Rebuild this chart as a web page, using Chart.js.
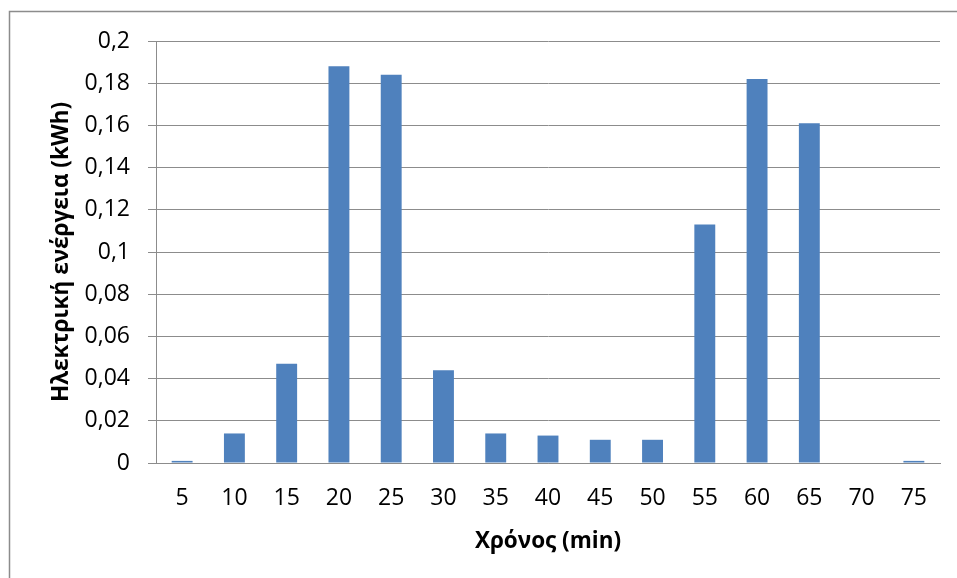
<!DOCTYPE html>
<html>
<head>
<meta charset="utf-8">
<script src="https://cdn.jsdelivr.net/npm/chart.js"></script>
<style>
  html, body { margin: 0; padding: 0; background: #fff; }
  #wrap { position: relative; width: 957px; height: 578px; }
</style>
</head>
<body>
<div id="wrap"><canvas id="chart" width="957" height="578"></canvas></div>
<script>
// minutes on the x axis
const minutes = ['5', '10', '15', '20', '25', '30', '35', '40', '45', '50', '55', '60', '65', '70', '75'];
// energy per interval (kWh)
const energy = [0.001, 0.014, 0.047, 0.188, 0.184, 0.044, 0.014, 0.013, 0.011, 0.011, 0.113, 0.182, 0.161, 0, 0.001];
// y tick labels, greek decimal comma
const yTickLabels = ['0', '0,02', '0,04', '0,06', '0,08', '0,1', '0,12', '0,14', '0,16', '0,18', '0,2'];

const FONT = "'Open Sans', 'Noto Sans', sans-serif";

// outer frame of the Excel chart (top and left edges only show)
const framePlugin = {
  id: 'frame',
  beforeDraw(chart) {
    const ctx = chart.ctx;
    ctx.save();
    ctx.strokeStyle = '#8c8c8c';
    ctx.lineWidth = 1.5;
    ctx.beginPath();
    ctx.moveTo(9.5, 600);
    ctx.lineTo(9.5, 11.5);
    ctx.lineTo(960, 11.5);
    ctx.stroke();
    ctx.restore();
  }
};

new Chart(document.getElementById('chart'), {
  type: 'bar',
  data: {
    labels: minutes,
    datasets: [{
      label: 'Ηλεκτρική ενέργεια',
      data: energy,
      backgroundColor: '#4F81BD',
      borderWidth: 0,
      barPercentage: 0.4,
      categoryPercentage: 1.0
    }]
  },
  options: {
    responsive: false,
    animation: false,
    devicePixelRatio: 1,
    layout: { padding: { top: 41, right: 17, bottom: 0, left: 0 } },
    plugins: {
      legend: { display: false },
      tooltip: { enabled: false }
    },
    scales: {
      x: {
        grid: { display: false },
        border: { display: true, color: '#8c8c8c', width: 1 },
        ticks: {
          color: '#000',
          font: { family: FONT, size: 23 },
          padding: 14,
          maxRotation: 0
        },
        title: {
          display: true,
          text: 'Χρόνος (min)',
          color: '#000',
          font: { family: FONT, size: 22.5, weight: 'bold' },
          padding: { top: 0, bottom: 23 }
        },
        afterFit(scale) { scale.height = 115; }
      },
      y: {
        min: 0,
        max: 0.2,
        grid: {
          color: '#8c8c8c',
          lineWidth: 1,
          drawTicks: true,
          tickLength: 8
        },
        border: { display: true, color: '#8c8c8c', width: 1 },
        ticks: {
          stepSize: 0.02,
          color: '#000',
          font: { family: FONT, size: 23 },
          padding: 18,
          callback: (v, i) => yTickLabels[i]
        },
        title: {
          display: true,
          text: 'Ηλεκτρική ενέργεια (kWh)',
          color: '#000',
          font: { family: FONT, size: 22.5, weight: 'bold' },
          padding: { top: 48, bottom: 0 }
        },
        afterFit(scale) { scale.width = 156; }
      }
    }
  },
  plugins: [framePlugin]
});
</script>
</body>
</html>
